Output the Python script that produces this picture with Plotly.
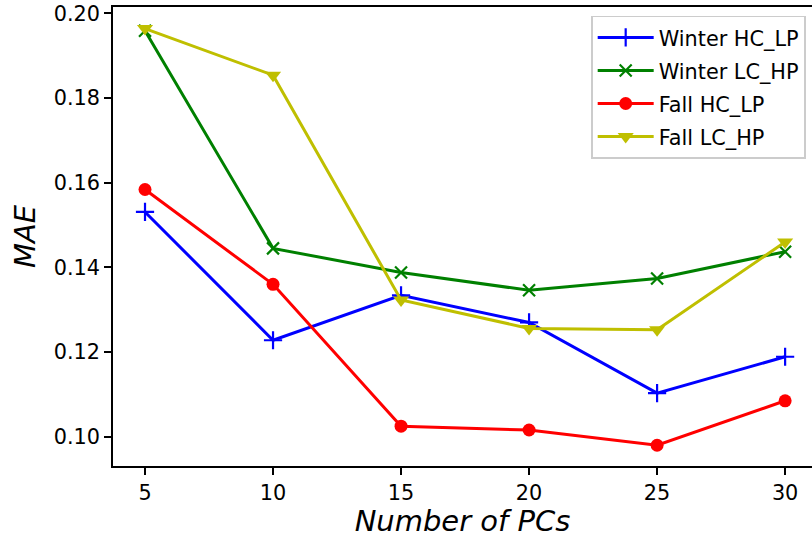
import plotly.graph_objects as go

pcs = [5, 10, 15, 20, 25, 30]
winter_hc_lp = [0.1531, 0.1228, 0.1334, 0.1270, 0.1103, 0.1189]
winter_lc_hp = [0.1959, 0.1445, 0.1388, 0.1346, 0.1374, 0.1437]
fall_hc_lp = [0.1584, 0.1360, 0.1025, 0.1016, 0.0980, 0.1085]
fall_lc_hp = [0.1964, 0.1854, 0.1323, 0.1256, 0.1253, 0.1460]

names = ["Winter HC_LP", "Winter LC_HP", "Fall HC_LP", "Fall LC_HP"]
series = [winter_hc_lp, winter_lc_hp, fall_hc_lp, fall_lc_hp]
colors = ["#0000ff", "#008000", "#ff0000", "#bfbf00"]
symbols = ["cross-thin", "x-thin", "circle", "triangle-down"]
msizes = [13, 12, 13, 14]

fig = go.Figure()
for i, (n, s, c, sym, ms) in enumerate(zip(names, series, colors, symbols, msizes)):
    fig.add_trace(go.Scatter(
        x=pcs, y=s, name=n, mode="lines+markers",
        legendgroup=f"g{i}",
        line=dict(color=c, width=3),
        marker=dict(symbol=sym, size=ms, color=c,
                    line=dict(color=c, width=2.2 if "thin" in sym else 0)),
    ))

font_family = "DejaVu Sans, sans-serif"
fig.update_layout(
    width=812, height=538,
    margin=dict(l=113, r=0, t=7, b=72),
    paper_bgcolor="white", plot_bgcolor="white",
    font=dict(family=font_family, size=20.8, color="black"),
    showlegend=True,
    legend=dict(
        x=0.9914, xanchor="right", y=0.981, yanchor="top",
        bgcolor="rgba(255,255,255,0.8)", bordercolor="#cccccc", borderwidth=1.7,
        font=dict(size=20.8, family=font_family),
        tracegroupgap=3,
        itemwidth=56,
    ),
    xaxis=dict(
        range=[3.75, 31.05], tickvals=pcs, ticktext=[str(v) for v in pcs],
        showgrid=False, zeroline=False,
        showline=True, linecolor="black", linewidth=1.7, mirror=True,
        ticks="outside", ticklen=7, tickwidth=1.7, tickcolor="black",
        tickfont=dict(size=20.8),
        title=dict(text="<i>Number of PCs</i>", font=dict(size=29), standoff=6),
    ),
    yaxis=dict(
        range=[0.0931, 0.2015], tickvals=[0.10, 0.12, 0.14, 0.16, 0.18, 0.20],
        tickformat=".2f", ticklabeloverflow="allow",
        showgrid=False, zeroline=False,
        showline=True, linecolor="black", linewidth=1.7, mirror=False,
        ticks="outside", ticklen=7, tickwidth=1.7, tickcolor="black",
        tickfont=dict(size=20.8),
        title=dict(text="<i>MAE</i>", font=dict(size=29), standoff=10),
    ),
)

fig.write_html(
    "out.html",
    config={"displayModeBar": False},
    post_script="document.body.style.margin='0';document.body.style.overflow='hidden';",
)
